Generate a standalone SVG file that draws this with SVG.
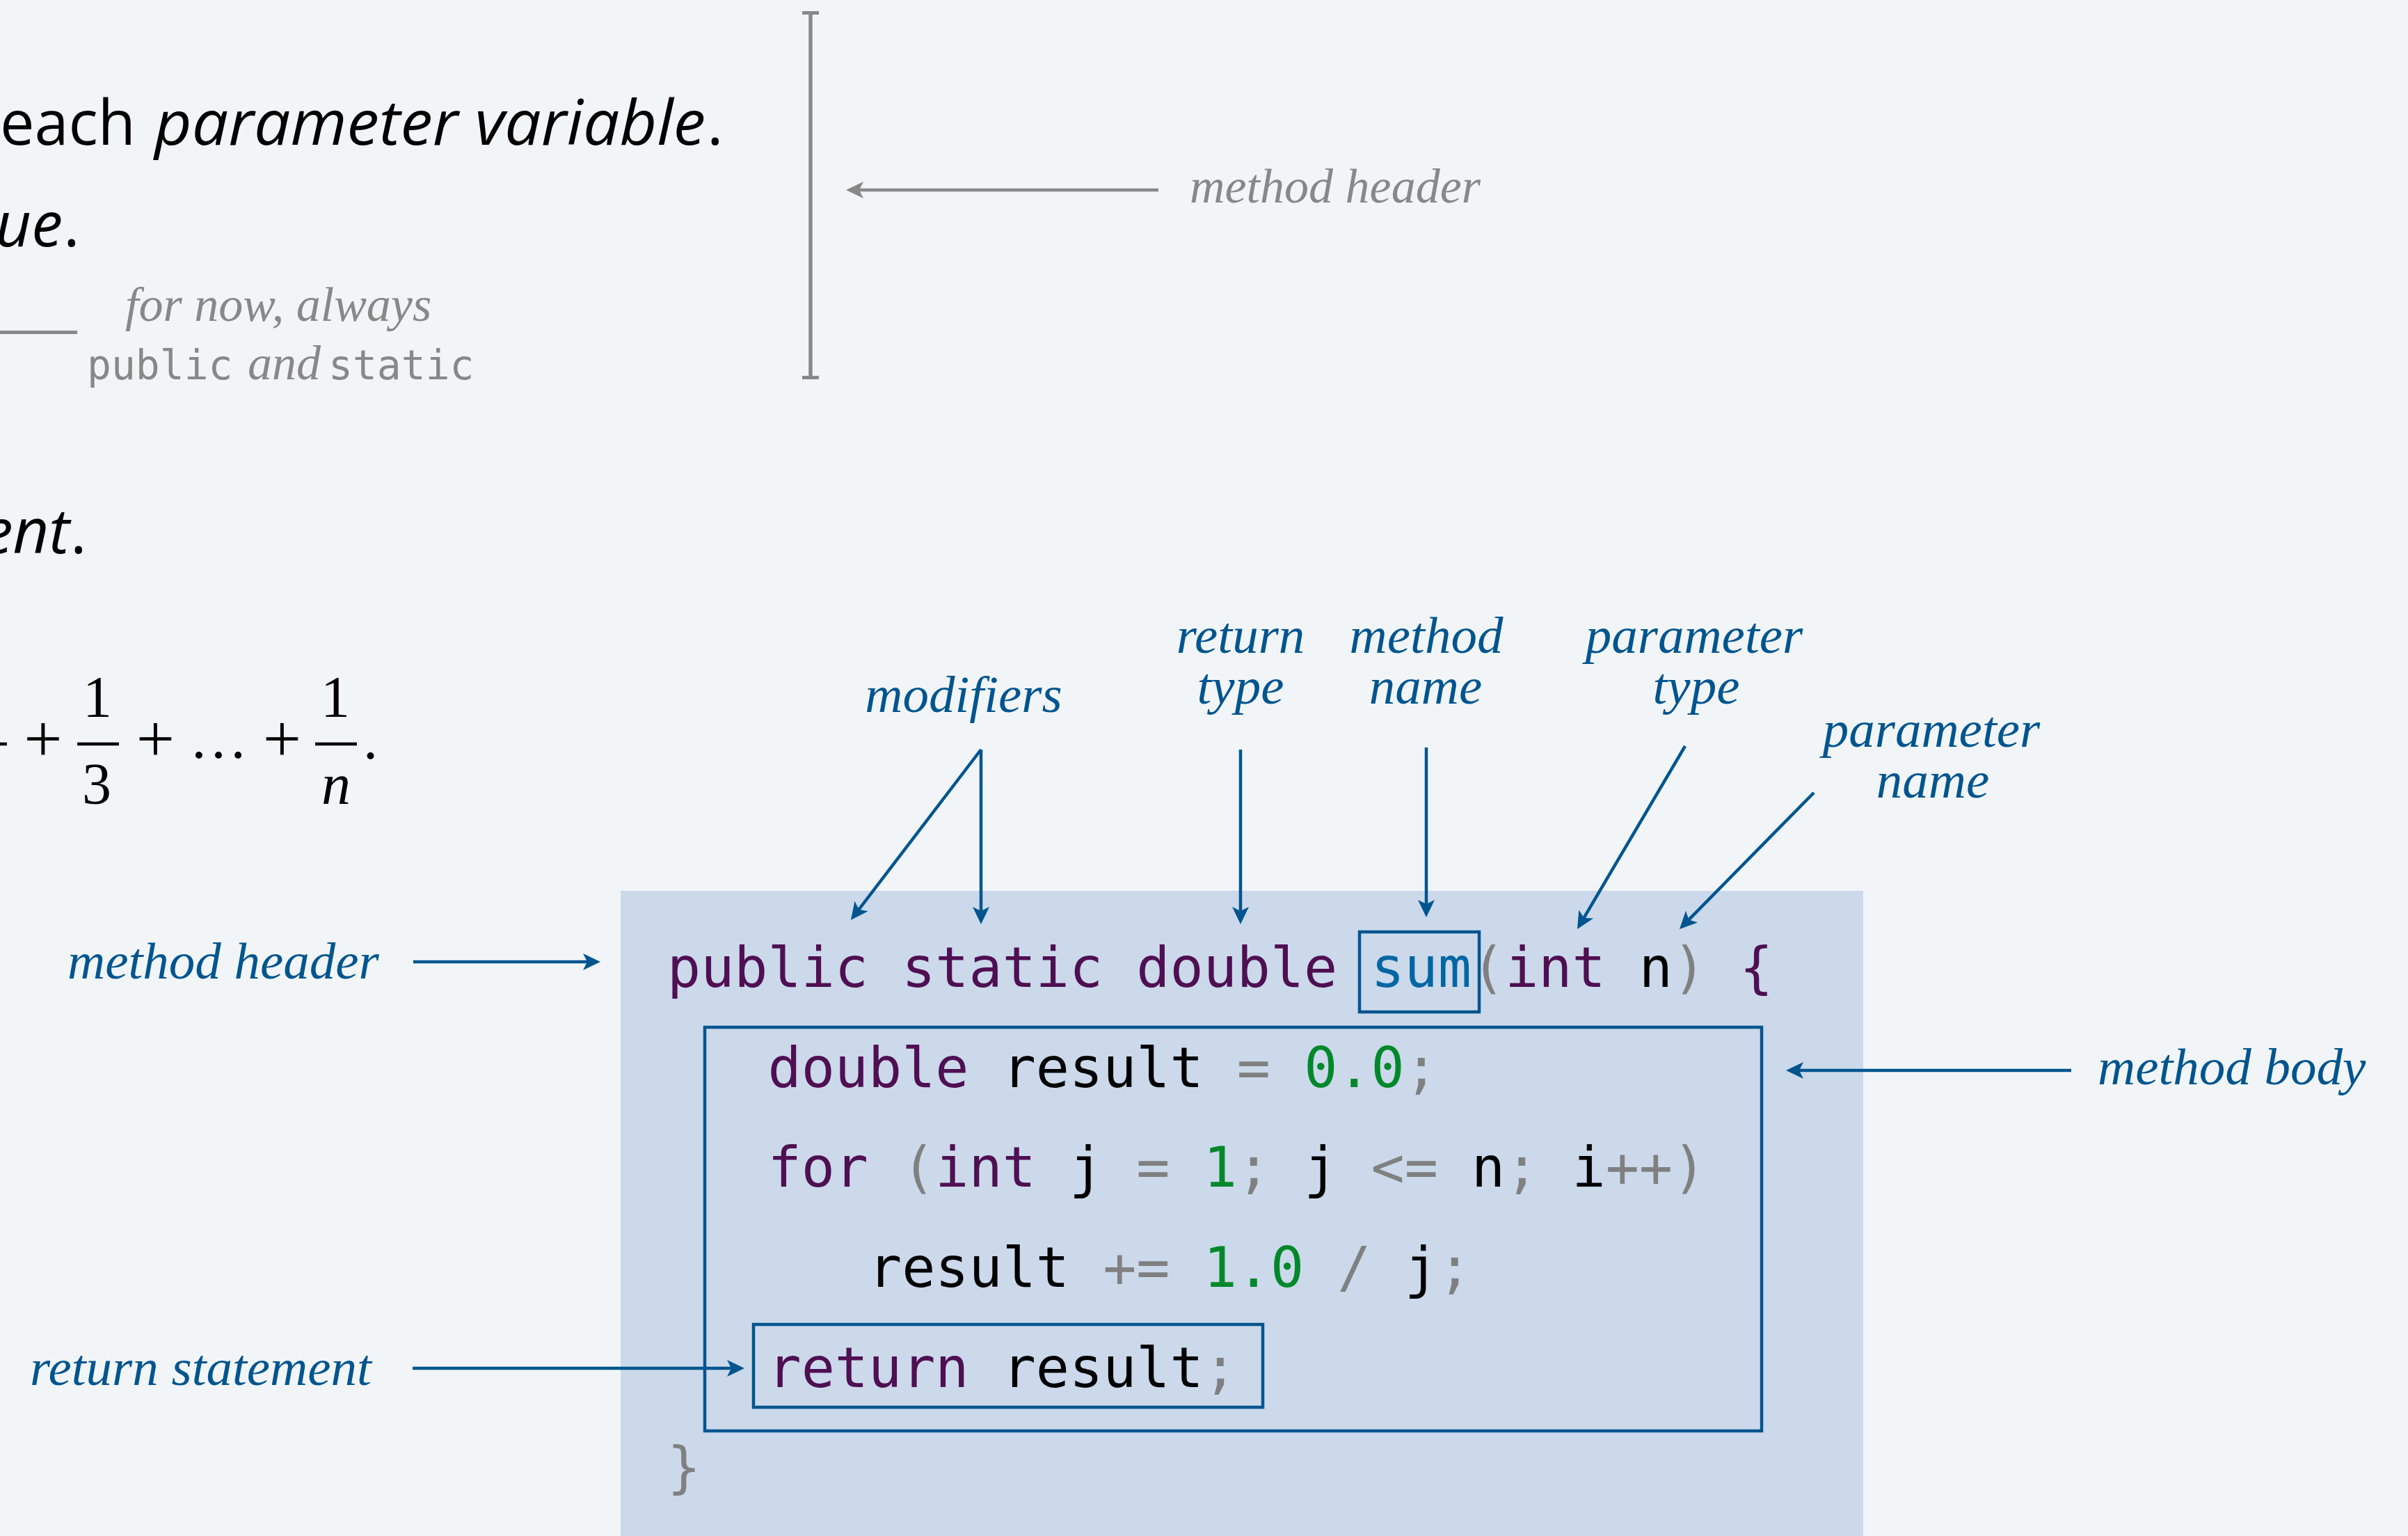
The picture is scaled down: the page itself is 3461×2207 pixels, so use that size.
<svg xmlns="http://www.w3.org/2000/svg" width="3461" height="2207" viewBox="0 0 3461 2207">
<defs>
<style>
.sans{font-family:"Open Sans","Liberation Sans",sans-serif;fill:#000}
.it{font-style:italic}
.lab{font-family:"Liberation Serif",serif;font-style:italic;font-size:75px;fill:#00558f}
.glab{font-family:"Liberation Serif",serif;font-style:italic;font-size:70px;fill:#888888}
.gmono{font-family:"DejaVu Sans Mono","Liberation Mono",monospace;font-size:58px;fill:#888888}
.math{font-family:"Liberation Serif",serif;font-size:84px;fill:#000}
.plus{font-size:98px}
.code{font-family:"DejaVu Sans Mono","Liberation Mono",monospace;font-size:80px;fill:#000}
.kw{fill:#4f0f52}
.op{fill:#808080}
.num{fill:#00882a}
.fn{fill:#0066a3}
.bl{stroke:#00558f;stroke-width:4.5;fill:none}
.box{stroke:#00558f;stroke-width:4.5;fill:none}
.gl{stroke:#888888;fill:none}
</style>
<marker id="ab" markerUnits="userSpaceOnUse" viewBox="-12 -14 30 28" markerWidth="30" markerHeight="28" refX="0" refY="0" orient="auto">
<path d="M15,0 L-10,-12 L-4,0 L-10,12 Z" fill="#00558f"/>
</marker>
<marker id="ag" markerUnits="userSpaceOnUse" viewBox="-12 -14 30 28" markerWidth="30" markerHeight="28" refX="0" refY="0" orient="auto">
<path d="M15,0 L-10,-12 L-4,0 L-10,12 Z" fill="#888888"/>
</marker>
</defs>
<rect x="0" y="0" width="3461" height="2207" fill="#f2f5f8"/>

<g id="slide-text">
<text class="sans" font-size="90" x="0" y="208" textLength="195" lengthAdjust="spacingAndGlyphs">each</text>
<text class="sans it" font-size="90" x="222" y="208" textLength="792" lengthAdjust="spacingAndGlyphs">parameter variable</text>
<text class="sans" font-size="90" x="1016" y="208">.</text>
<text class="sans it" font-size="90" x="90" y="354" text-anchor="end">ue</text>
<text class="sans" font-size="90" x="91" y="354">.</text>
<text class="sans it" font-size="90" x="100" y="795" text-anchor="end">ent</text>
<text class="sans" font-size="90" x="101" y="795">.</text>
</g>

<g id="modifier-note">
<line class="gl" x1="0" y1="477.5" x2="111" y2="477.5" stroke-width="5"/>
<text class="glab" x="180" y="461">for now, always</text>
<text x="125" y="545"><tspan class="gmono">public</tspan></text>
<text class="glab" x="356" y="545">and</text>
<text x="472" y="545"><tspan class="gmono">static</tspan></text>
</g>

<g id="header-bracket">
<line class="gl" x1="1165" y1="18.5" x2="1165" y2="542.5" stroke-width="5.5"/>
<line class="gl" x1="1153" y1="18.5" x2="1177" y2="18.5" stroke-width="5"/>
<line class="gl" x1="1153" y1="542.5" x2="1177" y2="542.5" stroke-width="5"/>
<text class="glab" x="1710" y="291">method header</text>
</g>

<g id="formula">
<line x1="0" y1="1069" x2="10" y2="1069" stroke="#000" stroke-width="4.5"/>
<text class="math plus" x="62" y="1094" text-anchor="middle">+</text>
<text class="math" x="140" y="1030" text-anchor="middle">1</text>
<line x1="111" y1="1069" x2="171" y2="1069" stroke="#000" stroke-width="4.5"/>
<text class="math" x="139" y="1155" text-anchor="middle">3</text>
<text class="math plus" x="223.5" y="1094" text-anchor="middle">+</text>
<text class="math" x="314" y="1089" text-anchor="middle">…</text>
<text class="math plus" x="405.5" y="1094" text-anchor="middle">+</text>
<text class="math" x="482" y="1030" text-anchor="middle">1</text>
<line x1="453" y1="1069" x2="513" y2="1069" stroke="#000" stroke-width="4.5"/>
<text class="math" x="483" y="1155" text-anchor="middle" font-style="italic">n</text>
<text class="math" x="522" y="1090">.</text>
</g>

<g id="code-block">
<rect x="892" y="1280" width="1786" height="927" fill="#cbd9eb"/>
<text class="code" x="959" y="1418" xml:space="preserve"><tspan class="kw">public static double</tspan> <tspan class="fn">sum</tspan><tspan class="op">(</tspan><tspan class="kw">int</tspan> n<tspan class="op">)</tspan> <tspan class="kw">{</tspan></text>
<text class="code" x="959" y="1562" xml:space="preserve">   <tspan class="kw">double</tspan> result <tspan class="op">=</tspan> <tspan class="num">0.0</tspan><tspan class="op">;</tspan></text>
<text class="code" x="959" y="1705" xml:space="preserve">   <tspan class="kw">for</tspan> <tspan class="op">(</tspan><tspan class="kw">int</tspan> j <tspan class="op">=</tspan> <tspan class="num">1</tspan><tspan class="op">;</tspan> j <tspan class="op">&lt;=</tspan> n<tspan class="op">;</tspan> i<tspan class="op">++)</tspan></text>
<text class="code" x="959" y="1849" xml:space="preserve">      result <tspan class="op">+=</tspan> <tspan class="num">1.0</tspan> <tspan class="op">/</tspan> j<tspan class="op">;</tspan></text>
<text class="code" x="959" y="1993" xml:space="preserve">   <tspan class="kw">return</tspan> result<tspan class="op">;</tspan></text>
<text class="code" x="959" y="2136"><tspan class="op">}</tspan></text>
</g>

<g id="sum-box"><rect class="box" x="1954" y="1339" width="172" height="115"/></g>
<g id="body-box"><rect class="box" x="1013" y="1476" width="1519" height="580"/></g>
<g id="return-box"><rect class="box" x="1083" y="1903" width="732" height="119"/></g>

<g id="label-modifiers"><text class="lab" x="1385" y="1023" text-anchor="middle">modifiers</text></g>
<g id="label-return-type"><text class="lab" x="1783" y="938" text-anchor="middle">return</text><text class="lab" x="1783" y="1011" text-anchor="middle">type</text></g>
<g id="label-method-name"><text class="lab" x="2050" y="938" text-anchor="middle">method</text><text class="lab" x="2049" y="1011" text-anchor="middle">name</text></g>
<g id="label-parameter-type"><text class="lab" x="2435" y="938" text-anchor="middle">parameter</text><text class="lab" x="2438" y="1011" text-anchor="middle">type</text></g>
<g id="label-parameter-name"><text class="lab" x="2776" y="1073" text-anchor="middle">parameter</text><text class="lab" x="2778" y="1146" text-anchor="middle">name</text></g>
<g id="label-method-header"><text class="lab" x="97" y="1406">method header</text></g>
<g id="label-method-body"><text class="lab" x="3015" y="1558">method body</text></g>
<g id="label-return-statement"><text class="lab" x="43" y="1990">return statement</text></g>

<g id="connectors">
<line class="gl" x1="1665" y1="273" x2="1231" y2="273" stroke-width="4.6" marker-end="url(#ag)"/>
<line class="bl" x1="1410" y1="1077" x2="1232" y2="1310" marker-end="url(#ab)"/>
<line class="bl" x1="1410" y1="1077" x2="1410" y2="1313" marker-end="url(#ab)"/>
<line class="bl" x1="1783" y1="1077" x2="1783" y2="1313" marker-end="url(#ab)"/>
<line class="bl" x1="2050" y1="1074" x2="2050" y2="1303" marker-end="url(#ab)"/>
<line class="bl" x1="2422" y1="1072" x2="2274.6" y2="1322.1" marker-end="url(#ab)"/>
<line class="bl" x1="2607" y1="1139" x2="2424.5" y2="1324.3" marker-end="url(#ab)"/>
<line class="bl" x1="594" y1="1382" x2="848" y2="1382" marker-end="url(#ab)"/>
<line class="bl" x1="2977" y1="1538" x2="2582" y2="1538" marker-end="url(#ab)"/>
<line class="bl" x1="593" y1="1966" x2="1055" y2="1966" marker-end="url(#ab)"/>
</g>
</svg>
